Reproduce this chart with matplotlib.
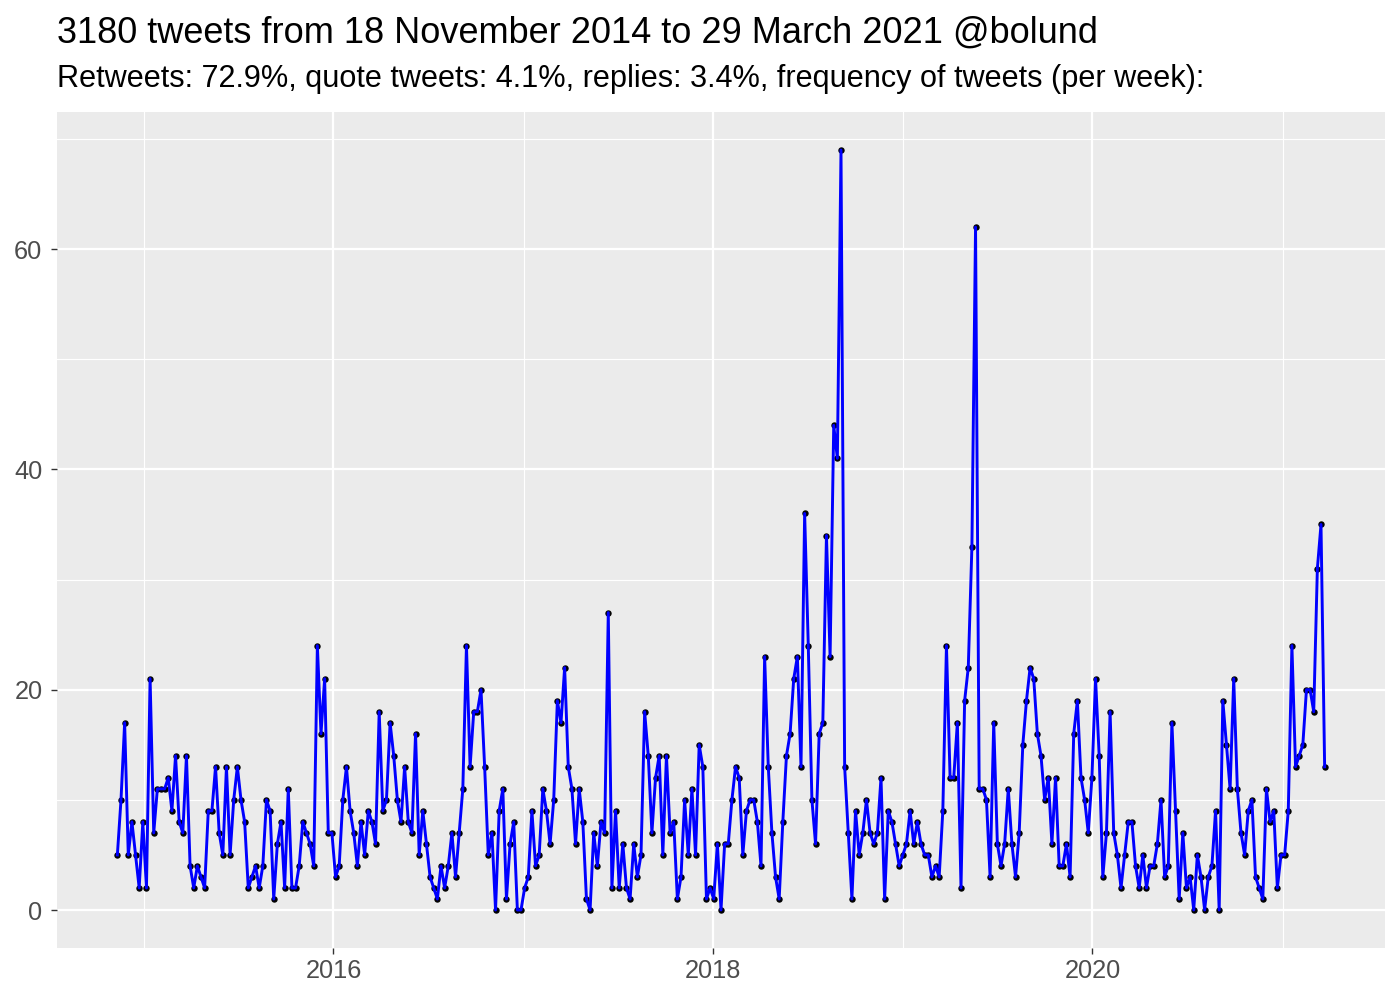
import matplotlib
matplotlib.use("Agg")
import matplotlib.pyplot as plt
import matplotlib.dates as mdates
import numpy as np
import pandas as pd

title = "3180 tweets from 18 November 2014 to 29 March 2021 @bolund"
subtitle = "Retweets: 72.9%, quote tweets: 4.1%, replies: 3.4%, frequency of tweets (per week):"

start_date = "2014-11-11"
tweets_per_week = [
    5, 10, 17, 5, 8, 5, 2, 8, 2, 21, 7, 11, 11, 11, 12, 9, 14, 8, 7, 14, 4, 2, 4, 3, 2, 9, 9, 13,
    7, 5, 13, 5, 10, 13, 10, 8, 2, 3, 4, 2, 4, 10, 9, 1, 6, 8, 2, 11, 2, 2, 4, 8, 7, 6, 4, 24, 16, 21, 7,
    7, 3, 4, 10, 13, 9, 7, 4, 8, 5, 9, 8, 6, 18, 9, 10, 17, 14, 10, 8, 13, 8, 7, 16, 5, 9, 6, 3, 2, 1,
    4, 2, 4, 7, 3, 7, 11, 24, 13, 18, 18, 20, 13, 5, 7, 0, 9, 11, 1, 6, 8, 0, 0, 2, 3, 9, 4, 5, 11, 9, 6,
    10, 19, 17, 22, 13, 11, 6, 11, 8, 1, 0, 7, 4, 8, 7, 27, 2, 9, 2, 6, 2, 1, 6, 3, 5, 18, 14, 7, 12, 14,
    5, 14, 7, 8, 1, 3, 10, 5, 11, 5, 15, 13, 1, 2, 1, 6, 0, 6, 6, 10, 13, 12, 5, 9, 10, 10, 8, 4, 23, 13,
    7, 3, 1, 8, 14, 16, 21, 23, 13, 36, 24, 10, 6, 16, 17, 34, 23, 44, 41, 69, 13, 7, 1, 9, 5, 7, 10, 7, 6, 7, 12,
    1, 9, 8, 6, 4, 5, 6, 9, 6, 8, 6, 5, 5, 3, 4, 3, 9, 24, 12, 12, 17, 2, 19, 22, 33, 62, 11, 11, 10, 3,
    17, 6, 4, 6, 11, 6, 3, 7, 15, 19, 22, 21, 16, 14, 10, 12, 6, 12, 4, 4, 6, 3, 16, 19, 12, 10, 7, 12, 21, 14,
    3, 7, 18, 7, 5, 2, 5, 8, 8, 4, 2, 5, 2, 4, 4, 6, 10, 3, 4, 17, 9, 1, 7, 2, 3, 0, 5, 3, 0, 3,
    4, 9, 0, 19, 15, 11, 21, 11, 7, 5, 9, 10, 3, 2, 1, 11, 8, 9, 2, 5, 5, 9, 24, 13, 14, 15, 20, 20, 18, 31, 35, 13,
]
y_major = [0, 20, 40, 60]
y_minor = [10, 30, 50, 70]
x_major_years = [2016, 2018, 2020]
x_minor_years = [2015, 2017, 2019, 2021]

dates = pd.date_range(start=start_date, periods=len(tweets_per_week), freq="7D")
vals = np.array(tweets_per_week)

plt.rcParams['font.family'] = ['Liberation Sans', 'DejaVu Sans']

fig = plt.figure(figsize=(14, 10), dpi=100)
ax = fig.add_axes([57/1400, 1 - 948/1000, (1385 - 57)/1400, (948 - 112)/1000])
ax.set_facecolor("#EBEBEB")

xnum = mdates.date2num(dates)
span = xnum[-1] - xnum[0]
ax.set_xlim(xnum[0] - 0.05 * span, xnum[-1] + 0.05 * span)
ymax = vals.max()
ax.set_ylim(-0.05 * ymax, ymax * 1.05)

ax.set_yticks(y_major)
ax.set_yticks(y_minor, minor=True)
ax.set_xticks([mdates.date2num(pd.Timestamp(f"{y}-01-01")) for y in x_major_years])
ax.set_xticks([mdates.date2num(pd.Timestamp(f"{y}-01-01")) for y in x_minor_years], minor=True)
ax.set_xticklabels([str(y) for y in x_major_years])
ax.set_yticklabels([str(v) for v in y_major])

ax.grid(which="major", color="white", linewidth=1.6)
ax.grid(which="minor", color="white", linewidth=0.8)
ax.set_axisbelow(True)
for s in ax.spines.values():
    s.set_visible(False)
ax.tick_params(which="major", length=4, width=1.0, color="#333333", labelcolor="#4D4D4D",
               labelsize=18.3, pad=4)
ax.tick_params(axis="y", which="major", pad=6.5)
ax.tick_params(which="minor", length=0)

ax.plot(xnum, vals, color="black", linestyle="none", marker="o", markersize=3.6, zorder=2)
ax.plot(xnum, vals, color="#0000FF", linewidth=2.1, zorder=3)

fig.text(57/1400, 1 - 43/1000, title, fontsize=26.0, color="black", ha="left", va="baseline")
fig.text(57/1400, 1 - 87.5/1000, subtitle, fontsize=22.1, color="black", ha="left", va="baseline")

fig.savefig("out.png", dpi=100)
